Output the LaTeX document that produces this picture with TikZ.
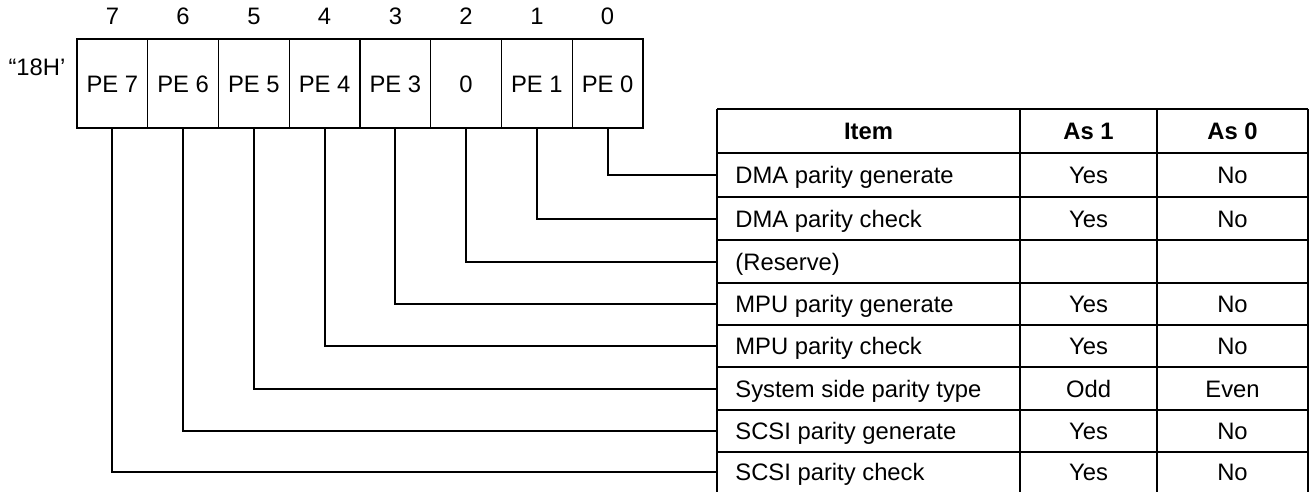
\documentclass[tikz,border=0pt]{standalone}
\usepackage{fontspec}
\setmainfont{Liberation Sans}
\usetikzlibrary{positioning}

\begin{document}
\begin{tikzpicture}[
    x=0.5pt, y=-0.5pt,
    font=\fontsize{11.9}{14}\selectfont,
    text height=8.5pt, text depth=0pt,
    bitbox/.style={draw, line width=0.6pt, minimum width=35.4pt, minimum height=44.5pt, inner sep=0pt},
    bitnum/.style={inner sep=0pt},
    wire/.style={line width=1pt},
    tabline/.style={line width=0.8pt},
    itemcell/.style={anchor=west, inner xsep=9pt, inner ysep=0pt},
    cell/.style={inner sep=0pt},
    head/.style={inner sep=0pt, font=\fontsize{11.9}{14}\selectfont\bfseries},
  ]
  \useasboundingbox (0,0) rectangle (1310,492);

  % Register "18H'
  \node[inner sep=0pt] (reg) at (37,67) {“18H’};
  \node[bitbox] (b7) at (112.4,83.5) {PE 7};
  \node[bitbox] (b6) at (183.1,83.5) {PE 6};
  \node[bitbox] (b5) at (253.9,83.5) {PE 5};
  \node[bitbox] (b4) at (324.6,83.5) {PE 4};
  \node[bitbox] (b3) at (395.4,83.5) {PE 3};
  \node[bitbox] (b2) at (466.1,83.5) {0};
  \node[bitbox] (b1) at (536.9,83.5) {PE 1};
  \node[bitbox] (b0) at (607.6,83.5) {PE 0};

  % Bit numbers
  \node[bitnum, above=6.7pt of b7] (n7) {7};
  \node[bitnum, above=6.7pt of b6] (n6) {6};
  \node[bitnum, above=6.7pt of b5] (n5) {5};
  \node[bitnum, above=6.7pt of b4] (n4) {4};
  \node[bitnum, above=6.7pt of b3] (n3) {3};
  \node[bitnum, above=6.7pt of b2] (n2) {2};
  \node[bitnum, above=6.7pt of b1] (n1) {1};
  \node[bitnum, above=6.7pt of b0] (n0) {0};

  % Table grid (bottom row left open)
  \draw[tabline] (717,109) -- (1308,109) (717,153) -- (1308,153)
    (717,197) -- (1308,197) (717,240) -- (1308,240)
    (717,283) -- (1308,283) (717,325) -- (1308,325)
    (717,367) -- (1308,367) (717,410) -- (1308,410)
    (717,452) -- (1308,452);
  \draw[tabline] (1020,109) -- (1020,492) (1157,109) -- (1157,492)
    (1308,109) -- (1308,492);
  \draw[wire] (717,109) -- (717,492);

  % Header
  \node[head] (hitem) at (868.5,131) {Item};
  \node[head] (has1) at (1088.5,131) {As 1};
  \node[head] (has0) at (1232.5,131) {As 0};

  % Rows
  \node[itemcell] (i0) at (717,175) {DMA parity generate};
  \node[cell] (y0) at (1088.5,175) {Yes};
  \node[cell] (z0) at (1232.5,175) {No};

  \node[itemcell] (i1) at (717,218.5) {DMA parity check};
  \node[cell] (y1) at (1088.5,218.5) {Yes};
  \node[cell] (z1) at (1232.5,218.5) {No};

  \node[itemcell] (i2) at (717,261.5) {(Reserve)};

  \node[itemcell] (i3) at (717,304) {MPU parity generate};
  \node[cell] (y3) at (1088.5,304) {Yes};
  \node[cell] (z3) at (1232.5,304) {No};

  \node[itemcell] (i4) at (717,346) {MPU parity check};
  \node[cell] (y4) at (1088.5,346) {Yes};
  \node[cell] (z4) at (1232.5,346) {No};

  \node[itemcell] (i5) at (717,388.5) {System side parity type};
  \node[cell] (y5) at (1088.5,388.5) {Odd};
  \node[cell] (z5) at (1232.5,388.5) {Even};

  \node[itemcell] (i6) at (717,431) {SCSI parity generate};
  \node[cell] (y6) at (1088.5,431) {Yes};
  \node[cell] (z6) at (1232.5,431) {No};

  \node[itemcell] (i7) at (717,472) {SCSI parity check};
  \node[cell] (y7) at (1088.5,472) {Yes};
  \node[cell] (z7) at (1232.5,472) {No};

  % Bit to row connectors
  \draw[wire] (b0.south) |- (i0.west);
  \draw[wire] (b1.south) |- (i1.west);
  \draw[wire] (b2.south) |- (i2.west);
  \draw[wire] (b3.south) |- (i3.west);
  \draw[wire] (b4.south) |- (i4.west);
  \draw[wire] (b5.south) |- (i5.west);
  \draw[wire] (b6.south) |- (i6.west);
  \draw[wire] (b7.south) |- (i7.west);
\end{tikzpicture}
\end{document}
